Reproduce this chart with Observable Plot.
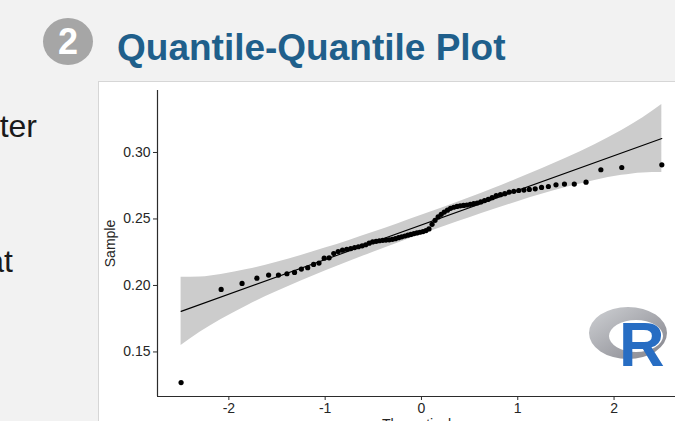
<!DOCTYPE html>
<html>
<head>
<meta charset="utf-8">
<script src="https://cdn.jsdelivr.net/npm/d3@7"></script>
<script src="https://cdn.jsdelivr.net/npm/@observablehq/plot@0.6"></script>
<style>
  html, body { margin: 0; padding: 0; overflow: hidden; }
  #page { position: relative; width: 675px; height: 421px; background: #f2f2f2; overflow: hidden; font-family: "Liberation Sans", Arial, sans-serif; }
  .badge { position: absolute; left: 43px; top: 18px; width: 50px; height: 47px; border-radius: 50%; background: #a6a6a6; color: #fff; font-weight: bold; font-size: 36px; line-height: 47px; text-align: center; }
  .title { position: absolute; left: 117px; top: 29px; font-weight: bold; font-size: 37px; line-height: 37px; color: #1f5f8b; white-space: nowrap; }
  .body { position: absolute; font-size: 32px; line-height: 32px; color: #1a1a1a; white-space: nowrap; text-align: right; }
  #panel { position: absolute; left: 98px; top: 81px; width: 600px; height: 360px; background: #fff; border: 1px solid #d6d6d6; }
  #chart { position: absolute; left: 99px; top: 82px; }
  #overlay { position: absolute; left: 0; top: 0; }
</style>
</head>
<body>
<div id="page">
  <div class="badge">2</div>
  <div class="title">Quantile-Quantile Plot</div>
  <div class="body" style="right:638px; top:110px;">ter</div>
  <div class="body" style="right:662px; top:245px;">at</div>
  <div id="panel"></div>
  <div id="chart"></div>
  <svg id="overlay" width="675" height="421">
    <defs>
      <linearGradient id="ring" x1="0" y1="0" x2="1" y2="1">
        <stop offset="0" stop-color="#cfd1d4"/>
        <stop offset="1" stop-color="#83838b"/>
      </linearGradient>
    </defs>
    <path fill="url(#ring)" fill-rule="evenodd"
      d="M589,333 a39,26 0 1,0 78,0 a39,26 0 1,0 -78,0 Z M609,336 a27,16 0 1,0 54,0 a27,16 0 1,0 -54,0 Z"/>
    <text x="619" y="366" font-family="Liberation Sans, Arial, sans-serif" font-weight="bold" font-size="63" fill="#276dc3">R</text>
  </svg>
</div>
<script>
// Theoretical normal quantiles (x) and sorted sample values (y)
const theoretical = [
  -2.496, -2.080, -1.863, -1.709, -1.587, -1.485, -1.397, -1.318, -1.247, -1.181,
  -1.120, -1.064, -1.010, -0.959, -0.911, -0.865, -0.820, -0.776, -0.734, -0.694,
  -0.655, -0.616, -0.579, -0.543, -0.507, -0.471, -0.437, -0.402, -0.369, -0.335,
  -0.302, -0.270, -0.237, -0.205, -0.173, -0.141, -0.110, -0.078, -0.047, -0.016,
   0.016,  0.047,  0.078,  0.110,  0.141,  0.173,  0.205,  0.237,  0.270,  0.302,
   0.335,  0.369,  0.402,  0.437,  0.471,  0.507,  0.543,  0.579,  0.616,  0.655,
   0.694,  0.734,  0.776,  0.820,  0.865,  0.911,  0.959,  1.010,  1.064,  1.120,
   1.181,  1.247,  1.318,  1.397,  1.485,  1.587,  1.709,  1.863,  2.080,  2.496
];
const sample = [
  0.1270, 0.1970, 0.2015, 0.2055, 0.2078, 0.2078, 0.2088, 0.2098, 0.2123, 0.2133,
  0.2158, 0.2168, 0.2205, 0.2208, 0.2240, 0.2255, 0.2265, 0.2272, 0.2277, 0.2285,
  0.2291, 0.2298, 0.2306, 0.2318, 0.2327, 0.2332, 0.2336, 0.2339, 0.2341, 0.2343,
  0.2347, 0.2352, 0.2359, 0.2366, 0.2372, 0.2378, 0.2384, 0.2390, 0.2395, 0.2400,
  0.2405, 0.2413, 0.2425, 0.2460, 0.2490, 0.2515, 0.2535, 0.2552, 0.2566, 0.2580,
  0.2588, 0.2594, 0.2599, 0.2602, 0.2605, 0.2610, 0.2615, 0.2620, 0.2628, 0.2638,
  0.2648, 0.2660, 0.2675, 0.2683, 0.2690, 0.2702, 0.2708, 0.2714, 0.2717, 0.2722,
  0.2727, 0.2737, 0.2744, 0.2757, 0.2762, 0.2762, 0.2777, 0.2870, 0.2887, 0.2907
];
// Reference line endpoints
const lineX = [-2.496, 2.496];
const lineY = [0.1805, 0.3105];
// Confidence band
const bandX = [-2.496, -2.3, -2.08, -1.8, -1.5, -1.25, -1, -0.75, -0.5, -0.25, 0,
               0.25, 0.5, 0.75, 1, 1.25, 1.5, 1.8, 2.08, 2.3, 2.496];
const bandLower = [0.1549, 0.1648, 0.1744, 0.1852, 0.1954, 0.2033, 0.2108, 0.2181, 0.2250, 0.2318, 0.2383,
                   0.2448, 0.2510, 0.2571, 0.2630, 0.2685, 0.2736, 0.2790, 0.2828, 0.2846, 0.2849];
const bandUpper = [0.2061, 0.2063, 0.2082, 0.2121, 0.2174, 0.2225, 0.2281, 0.2339, 0.2400, 0.2462, 0.2527,
                   0.2592, 0.2660, 0.2729, 0.2802, 0.2877, 0.2956, 0.3059, 0.3166, 0.3262, 0.3361];
// Axes
const xTicks = [-2, -1, 0, 1, 2];
const yTicks = [0.15, 0.20, 0.25, 0.30];
const xDomain = [-2.741, 2.638];
const yDomain = [0.1165, 0.3466];

const points = theoretical.map((t, i) => ({t, s: sample[i]}));
const fit = lineX.map((x, i) => ({x, y: lineY[i]}));
const band = bandX.map((x, i) => ({x, lo: bandLower[i], hi: bandUpper[i]}));

const axisColor = "#2b2b2b";
const chart = Plot.plot({
  width: 576,
  height: 360,
  marginLeft: 58,
  marginRight: 0,
  marginTop: 8,
  marginBottom: 46,
  style: { background: "transparent", fontFamily: "Liberation Sans, Arial, sans-serif", fontSize: "14px", color: "#262626", overflow: "visible" },
  x: { domain: xDomain },
  y: { domain: yDomain },
  marks: [
    Plot.areaY(band, { x: "x", y1: "lo", y2: "hi", fill: "#cccccc", curve: "monotone-x" }),
    Plot.line(fit, { x: "x", y: "y", stroke: "#000", strokeWidth: 1.1 }),
    Plot.dot(points, { x: "t", y: "s", r: 2.6, fill: "#000", stroke: "none" }),
    Plot.ruleX([xDomain[0]], { stroke: axisColor, strokeWidth: 1.2 }),
    Plot.ruleY([yDomain[0]], { stroke: axisColor, strokeWidth: 1.2 }),
    Plot.axisY({ ticks: yTicks, tickFormat: d => d.toFixed(2), tickSize: 4, tickPadding: 3, stroke: axisColor,
                 label: "Sample", labelAnchor: "center", labelArrow: "none", labelOffset: 52, fontSize: 14 }),
    Plot.axisX({ ticks: xTicks, tickFormat: d => String(d), tickSize: 4, tickPadding: 3, stroke: axisColor,
                 label: "Theoretical", labelAnchor: "center", labelArrow: "none", labelOffset: 32, fontSize: 14 })
  ]
});
document.getElementById("chart").appendChild(chart);
</script>
</body>
</html>
